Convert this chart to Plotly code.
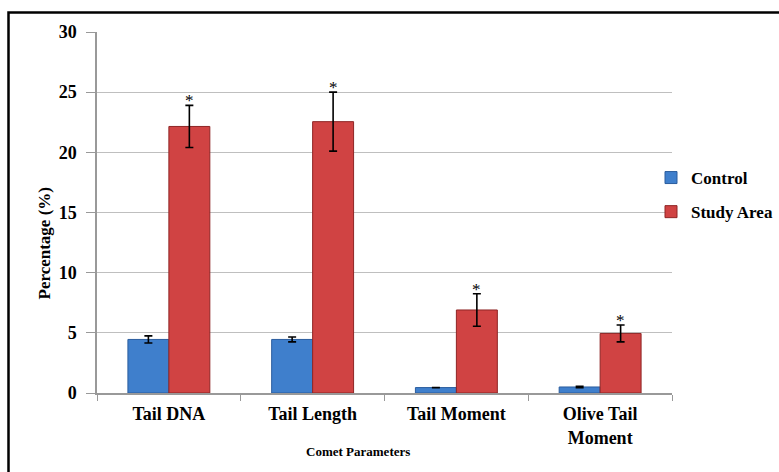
import plotly.graph_objects as go

categories = ["Tail DNA", "Tail Length", "Tail Moment", "Olive Tail<br>Moment"]
control = [4.45, 4.45, 0.45, 0.5]
control_err = [0.3, 0.2, 0.0, 0.05]
study = [22.15, 22.55, 6.9, 4.95]
study_err = [1.75, 2.45, 1.35, 0.7]
y_ticks = [0, 5, 10, 15, 20, 25, 30]

serif = "Liberation Serif"

# plot-area geometry in pixels
L, R, T, B = 97, 672, 32, 393
W, H = R - L, B - T


def px_x(x):
    return (x - L) / W


def px_y(y):
    return (B - y) / H


fig = go.Figure()
fig.add_trace(go.Bar(
    name="Control", x=categories, y=control, legendgroup="c",
    marker=dict(color="#3f7fcc", line=dict(color="#2b5d9e", width=1)),
    error_y=dict(type="data", array=control_err, color="black", thickness=1.6, width=4),
))
fig.add_trace(go.Bar(
    name="Study Area", x=categories, y=study, legendgroup="s",
    marker=dict(color="#d04343", line=dict(color="#8f2525", width=1)),
    error_y=dict(type="data", array=study_err, color="black", thickness=1.6, width=4),
))

# significance markers above the study-area error bars
for i, cat in enumerate(categories):
    fig.add_annotation(
        x=cat, y=study[i] + study_err[i], xshift=20.5, yshift=-7,
        text="*", showarrow=False, yanchor="bottom",
        font=dict(family=serif, size=17, color="black"),
    )

# axis titles
fig.add_annotation(
    xref="paper", yref="paper", x=px_x(32), y=px_y(243),
    text="<b>Percentage (%)</b>", textangle=-90, showarrow=False,
    font=dict(family=serif, size=17, color="black"),
)
fig.add_annotation(
    xref="paper", yref="paper", x=px_x(358), y=px_y(461),
    text="<b>Comet Parameters</b>", showarrow=False,
    font=dict(family=serif, size=13, color="black"),
)

# outer frame
fig.add_shape(type="rect", xref="paper", yref="paper",
              x0=px_x(8.5), y0=-1, x1=2, y1=px_y(12.5),
              line=dict(color="black", width=2.5))

fig.update_layout(
    width=779, height=472,
    margin=dict(l=L, r=779 - R, t=T, b=472 - B, autoexpand=False),
    paper_bgcolor="white", plot_bgcolor="white",
    barmode="group", bargap=0.43, bargroupgap=0,
    font=dict(family=serif, size=18, color="black"),
    showlegend=True,
    legend=dict(x=px_x(651), y=px_y(195), xanchor="left", yanchor="middle",
                font=dict(family=serif, size=17, color="black", weight="bold"),
                itemwidth=30, tracegroupgap=9, bgcolor="rgba(0,0,0,0)"),
    xaxis=dict(
        tickson="boundaries", ticks="outside", ticklen=6, tickcolor="#999",
        showline=True, linecolor="#999", linewidth=1.5, showgrid=False,
        ticklabelstandoff=4,
        tickfont=dict(family=serif, size=18, weight="bold"),
    ),
    yaxis=dict(
        range=[0, 30], tickvals=y_ticks, ticks="outside", ticklen=9, tickcolor="#999",
        showline=True, linecolor="#999", linewidth=1.5,
        showgrid=True, gridcolor="#bfbfbf", gridwidth=1.2, zeroline=False,
        ticklabelstandoff=6,
        tickfont=dict(family=serif, size=18, weight="bold"),
    ),
)

fig.write_html("out.html")
